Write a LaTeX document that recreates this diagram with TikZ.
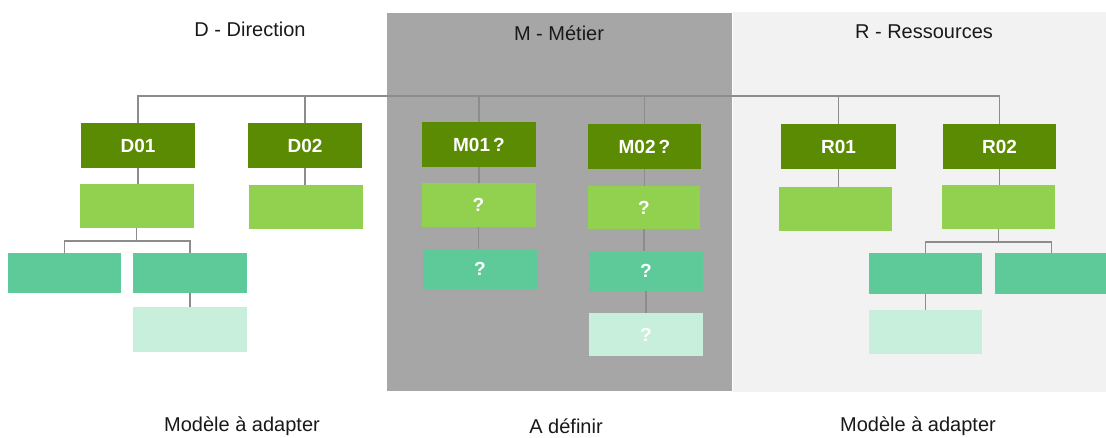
\documentclass[tikz,border=0pt]{standalone}
\usepackage{fontspec}
\setmainfont{Liberation Sans}
\usetikzlibrary{calc}

\definecolor{lvlA}{HTML}{5B8A03}
\definecolor{lvlB}{HTML}{92D050}
\definecolor{lvlC}{HTML}{5EC999}
\definecolor{lvlD}{HTML}{C8EEDC}
\definecolor{panelM}{HTML}{A6A6A6}
\definecolor{panelR}{HTML}{F2F2F2}
\definecolor{wire}{HTML}{8C8C8C}

\tikzset{
  box/.style={inner sep=0pt, outer sep=0pt, text=white,
    font=\fontsize{19}{22}\selectfont\bfseries, minimum width=114pt},
  unitA/.style={box, fill=lvlA, minimum height=45pt},
  unitB/.style={box, fill=lvlB, minimum height=44pt},
  unitC/.style={box, fill=lvlC, minimum height=40pt},
  unitD/.style={box, fill=lvlD, minimum height=44pt},
  link/.style={draw=wire, line width=1.1pt},
  caption/.style={font=\fontsize{20}{24}\selectfont, text=black!90}
}

\begin{document}
\begin{tikzpicture}[x=1pt, y=-1pt]
\useasboundingbox (0,0) rectangle (1106,437);

% column backgrounds
\fill[panelM] (387,13) rectangle (732,391);
\fill[panelR] (733,12) rectangle (1106,392);

% column titles and footers
\node[caption] (tD) at (250,29) {D - Direction};
\node[caption] (tM) at (559,33) {M - Métier};
\node[caption] (tR) at (924,32) {R - Ressources};
\node[caption] (fD) at (242,426) {Modèle à adapter};
\node[caption] (fM) at (566,426) {A définir};
\node[caption] (fR) at (918,426) {Modèle à adapter};

% Direction
\node[unitA] (D01) at (138,145.5) {D01};
\node[unitA] (D02) at (305,145.5) {D02};
\node[unitB] (D01b) at (136.5,206) {};
\node[unitB] (D02b) at (305.5,207) {};
\node[unitC, minimum width=113pt] (D01c1) at (64.5,273) {};
\node[unitC] (D01c2) at (190,273) {};
\node[unitD, minimum height=45pt] (D01d) at (190,329.5) {};

% Métier
\node[unitA] (M01) at (479,144.5) {M01\,?};
\node[unitA, minimum width=113pt] (M02) at (644.5,146.5) {M02\,?};
\node[unitB] (M01b) at (478.5,205) {?};
\node[unitB, minimum width=112pt, minimum height=43pt] (M02b) at (644,207.5) {?};
\node[unitC] (M01c) at (480,269) {?};
\node[unitC] (M02c) at (646,271) {?};
\node[unitD, minimum height=43pt] (M02d) at (646,334.5) {?};

% Ressources
\node[unitA, minimum width=115pt] (R01) at (838.5,146.5) {R01};
\node[unitA, minimum width=113pt] (R02) at (999.5,146.5) {R02};
\node[unitB, minimum width=113pt] (R01b) at (835.5,209) {};
\node[unitB, minimum width=113pt] (R02b) at (998.5,207) {};
\node[unitC, minimum width=113pt, minimum height=41pt] (R02c1) at (925.5,273.5) {};
\node[unitC, minimum width=113pt, minimum height=41pt] (R02c2) at (1051.5,273.5) {};
\node[unitD, minimum width=113pt] (R02d) at (925.5,332) {};

% junction levels
\coordinate (bus) at (0,96);
\coordinate (dj) at (0,241);
\coordinate (rj) at (0,242);

% top bus
\draw[link] (D01.north) -- (D01.north |- bus) -- (R02.north |- bus) -- (R02.north);
\foreach \n in {D02,M01,M02,R01}
  \draw[link] (\n.north) -- (\n.north |- bus);

% straight links
\draw[link] (D01.south) -- (D01.south |- D01b.north);
\draw[link] (D02.south) -- (D02.south |- D02b.north);
\draw[link] (D01c2.south) -- (D01d.north);
\draw[link] (M01.south) -- (M01.south |- M01b.north);
\draw[link] (M01b.south) -- (M01b.south |- M01c.north);
\draw[link] (M02.south) -- (M02.south |- M02b.north);
\draw[link] (M02b.south) -- (M02b.south |- M02c.north);
\draw[link] (M02c.south) -- (M02d.north);
\draw[link] (R01.south) -- (R01.south |- R01b.north);
\draw[link] (R02.south) -- (R02.south |- R02b.north);
\draw[link] (R02c1.south) -- (R02d.north);

% forks
\draw[link] (D01b.south) -- (D01b.south |- dj);
\draw[link] (D01c1.north) -- (D01c1.north |- dj) -| (D01c2.north);
\draw[link] (R02b.south) -- (R02b.south |- rj);
\draw[link] (R02c1.north) -- (R02c1.north |- rj) -| (R02c2.north);
\end{tikzpicture}
\end{document}
